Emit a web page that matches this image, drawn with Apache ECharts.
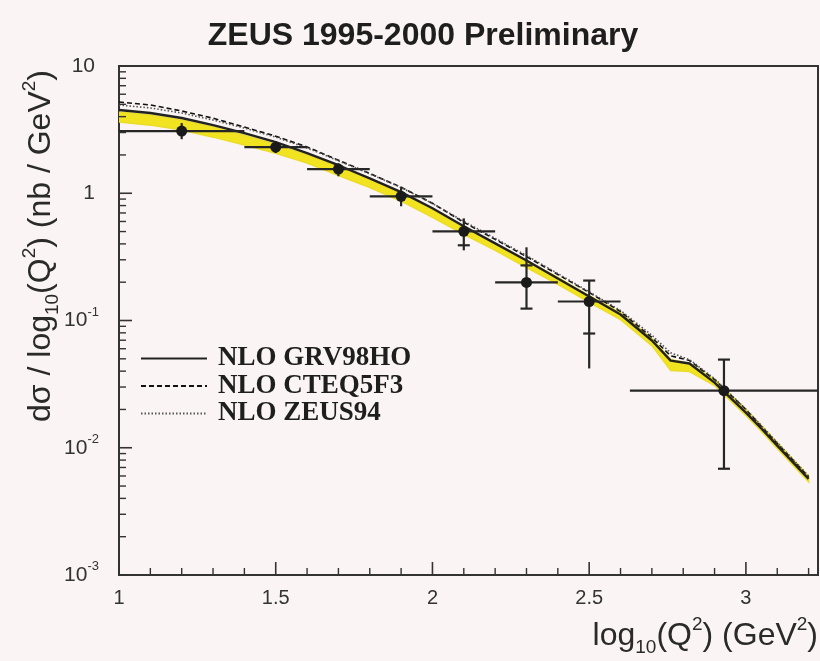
<!DOCTYPE html>
<html><head><meta charset="utf-8">
<script src="https://cdn.jsdelivr.net/npm/echarts@6/dist/echarts.min.js"></script>
<style>html,body{margin:0;padding:0;background:#faf4f4}#c{width:820px;height:661px}</style>
</head><body><div id="c"></div>
<script>
// ---- data ----
const curveX = [1.0,1.1,1.2,1.3,1.4,1.5,1.6,1.7,1.8,1.9,2.0,2.1,2.2,2.3,2.4,2.5,2.6,2.7,2.76,2.82,2.9,3.0,3.05,3.1,3.2];
const grv98 = [4.51,4.27,3.90,3.43,2.97,2.52,2.07,1.66,1.31,1.02,0.762,0.550,0.404,0.296,0.214,0.1545,0.1114,0.0696,0.0484,0.0459,0.0325,0.0189,0.0141,0.0104,0.0057];
const cteq5 = [5.21,4.94,4.43,3.89,3.31,2.81,2.31,1.82,1.43,1.117,0.834,0.591,0.434,0.318,0.230,0.166,0.1176,0.0735,0.0528,0.0485,0.0343,0.0200,0.0146,0.0108,0.0059];
const zeus94 = [4.94,4.68,4.27,3.76,3.25,2.76,2.27,1.80,1.42,1.110,0.830,0.602,0.442,0.324,0.234,0.168,0.1198,0.0766,0.0557,0.0493,0.0349,0.0201,0.0149,0.0110,0.0060];
const bandLo = [3.63,3.43,3.14,2.76,2.39,2.06,1.73,1.38,1.11,0.866,0.647,0.476,0.356,0.261,0.192,0.1386,0.1017,0.0635,0.0404,0.0397,0.0308,0.0179,0.0134,0.00985,0.0054];
const bandHi = [4.35,4.12,3.76,3.31,2.86,2.43,2.00,1.63,1.29,1.00,0.748,0.540,0.404,0.296,0.218,0.157,0.1155,0.0722,0.0493,0.0459,0.0343,0.0200,0.0149,0.0110,0.0060];

const dataX  = [1.2,1.5,1.7,1.9,2.1,2.3,2.5,2.93];
const dataY  = [3.08,2.30,1.55,0.946,0.502,0.199,0.141,0.0281];
const binLo  = [1.0,1.4,1.6,1.8,2.0,2.2,2.4,2.63];
const binHi  = [1.4,1.6,1.8,2.0,2.2,2.4,2.6,3.25];
const errLo  = [2.66,2.07,1.36,0.79,0.356,0.124,0.042,0.00684];
const errHi  = [3.56,2.56,1.72,1.11,0.635,0.376,0.206,0.0493];
const capLo  = [null,null,null,null,0.39,0.124,0.079,0.00684];
const capHi  = [null,null,null,null,null,0.271,0.206,0.0493];

const seriesNames = ['NLO GRV98HO','NLO CTEQ5F3','NLO ZEUS94'];
const xMajor = [1,1.5,2,2.5,3];
const xMinor = [1.1,1.2,1.3,1.4,1.6,1.7,1.8,1.9,2.1,2.2,2.3,2.4,2.6,2.7,2.8,2.9,3.1,3.2];
const yMajor = [0.001,0.01,0.1,1,10];
const yMinorMult = [2,3,4,5,6,7,8,9];

const chart = echarts.init(document.getElementById('c'), null, {renderer:'canvas'});
const INK = '#262626';

function ln(x1,y1,x2,y2,w,c){return {type:'line',shape:{x1,y1,x2,y2},style:{stroke:c||INK,lineWidth:w||2}};}

function renderBand(params, api){
  if (params.dataIndex !== 0) return null;
  const pts = [];
  for (let i=0;i<curveX.length;i++) pts.push(api.coord([curveX[i], bandHi[i]]));
  for (let i=curveX.length-1;i>=0;i--) pts.push(api.coord([curveX[i], bandLo[i]]));
  return {type:'polygon', shape:{points:pts}, style:{fill:'#f1e31f', stroke:'#ecdc2a', lineWidth:1.5}};
}

function renderErr(params, api){
  const i = params.dataIndex;
  const c = api.coord([dataX[i], dataY[i]]);
  const l = api.coord([binLo[i], dataY[i]]);
  const r = api.coord([binHi[i], dataY[i]]);
  const lo = api.coord([dataX[i], errLo[i]]);
  const hi = api.coord([dataX[i], errHi[i]]);
  const ch = [ln(l[0],c[1],r[0],c[1],2.2), ln(c[0],lo[1],c[0],hi[1],2.2)];
  if (capLo[i] !== null){ const p = api.coord([dataX[i], capLo[i]]); ch.push(ln(c[0]-6,p[1],c[0]+6,p[1],2.2)); }
  if (capHi[i] !== null){ const p = api.coord([dataX[i], capHi[i]]); ch.push(ln(c[0]-6,p[1],c[0]+6,p[1],2.2)); }
  ch.push({type:'circle', shape:{cx:c[0],cy:c[1],r:5.5}, style:{fill:'#1a1a1a'}});
  return {type:'group', children:ch};
}

function renderTicks(params, api){
  if (params.dataIndex !== 0) return null;
  const ch = [];
  xMajor.forEach(v=>{const p=api.coord([v,0.001]); ch.push(ln(p[0],p[1],p[0],p[1]-13,1.6,'#333'));});
  xMinor.forEach(v=>{const p=api.coord([v,0.001]); ch.push(ln(p[0],p[1],p[0],p[1]-7,1.4,'#333'));});
  yMajor.forEach(v=>{const p=api.coord([1,v]); ch.push(ln(p[0],p[1],p[0]+13,p[1],1.6,'#333'));});
  for (let d=0; d<4; d++){
    yMinorMult.forEach(m=>{const p=api.coord([1, m*yMajor[d]]); ch.push(ln(p[0],p[1],p[0]+7,p[1],1.4,'#333'));});
  }
  return {type:'group', children:ch};
}

function yLabel(v){
  const e = Math.round(Math.log10(v));
  if (e === 1) return '{b|10}';
  if (e === 0) return '{b|1}';
  return '{e|10}{s|' + e + '}';
}

const richAxisTitle = {
  a:{fontSize:32, fontFamily:'Liberation Sans', fill:'#2a2a2a', lineHeight:42},
  sub:{fontSize:19, fontFamily:'Liberation Sans', fill:'#2a2a2a', verticalAlign:'bottom', lineHeight:42},
  sup:{fontSize:19, fontFamily:'Liberation Sans', fill:'#2a2a2a', verticalAlign:'top', lineHeight:42}
};

const option = {
  backgroundColor:'#faf4f4',
  animation:false,
  grid:{left:119, top:66, width:699, height:509, show:true, borderColor:'#333', borderWidth:2},
  legend:{
    data: seriesNames, orient:'vertical', left:135, top:340, itemWidth:66, itemHeight:14, itemGap:0.5,
    itemStyle:{opacity:0},
    textStyle:{fontFamily:'Liberation Serif', fontWeight:'bold', fontSize:27, color:'#1e1e1e', lineHeight:27, padding:[0,0,0,6]}
  },
  graphic:[
    {type:'text', x:423, y:36, style:{text:'ZEUS 1995-2000 Preliminary', align:'center', verticalAlign:'middle',
      font:'bold 32px "Liberation Sans", Arial, sans-serif', fill:'#1e1e1e'}},
    {type:'text', x:41, y:246, rotation:Math.PI/2, style:{
      text:'{a|dσ / log}{sub|10}{a|(Q}{sup|2}{a|) (nb / GeV}{sup|2}{a|)}',
      align:'center', verticalAlign:'middle', rich:richAxisTitle
    }},
    {type:'text', right:2, top:615, style:{
      text:'{a|log}{sub|10}{a|(Q}{sup|2}{a|) (GeV}{sup|2}{a|)}', rich:richAxisTitle
    }}
  ],
  xAxis:{type:'value', min:1, max:3.23, interval:0.5,
    axisLine:{show:true, lineStyle:{color:'#333', width:2}}, axisTick:{show:false}, splitLine:{show:false},
    axisLabel:{margin:13, fontSize:20, color:'#333', fontFamily:'Liberation Sans', showMaxLabel:false}},
  yAxis:{type:'log', logBase:10, min:0.001, max:10,
    axisLine:{show:true, lineStyle:{color:'#333', width:2}}, axisTick:{show:false}, splitLine:{show:false}, minorTick:{show:false},
    axisLabel:{margin:20, formatter:yLabel, color:'#333',
      rich:{b:{fontSize:21, fontFamily:'Liberation Sans', color:'#333', padding:[0,4,0,0]},
            e:{fontSize:21, fontFamily:'Liberation Sans', color:'#333', lineHeight:30},
            s:{fontSize:13, fontFamily:'Liberation Sans', color:'#333', verticalAlign:'top', lineHeight:30}}}},
  series:[
    {type:'custom', name:'band', silent:true, z:1, clip:true, renderItem:renderBand,
     data: curveX.map((x,i)=>[x, bandLo[i], bandHi[i]]), encode:{x:0, y:[1,2]}},
    {type:'line', name:seriesNames[1], z:2, symbol:'none', data: curveX.map((x,i)=>[x,cteq5[i]]),
     lineStyle:{color:'#111', width:1.6, type:[5,3]}, itemStyle:{color:'#111'}},
    {type:'line', name:seriesNames[2], z:2, symbol:'none', data: curveX.map((x,i)=>[x,zeus94[i]]),
     lineStyle:{color:'#555', width:1.6, type:[1.5,2]}, itemStyle:{color:'#555'}},
    {type:'line', name:seriesNames[0], z:3, symbol:'none', data: curveX.map((x,i)=>[x,grv98[i]]),
     lineStyle:{color:'#222', width:2.4}, itemStyle:{color:'#222'}},
    {type:'custom', name:'data', z:4, clip:true, renderItem:renderErr,
     data: dataX.map((x,i)=>[x, dataY[i], binLo[i], binHi[i], errLo[i], errHi[i]]), encode:{x:[0,2,3], y:[1,4,5]}},
    {type:'custom', name:'ticks', z:5, silent:true, clip:false, renderItem:renderTicks, data:[[1,1]], encode:{x:0,y:1}}
  ]
};
chart.setOption(option);
</script></body></html>
